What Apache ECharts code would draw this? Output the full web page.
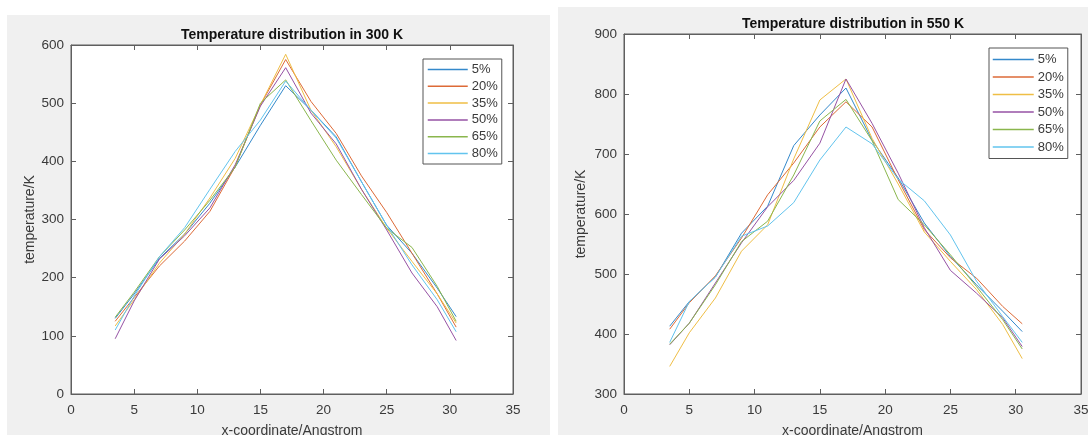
<!DOCTYPE html>
<html>
<head>
<meta charset="utf-8">
<script src="https://cdn.jsdelivr.net/npm/echarts@6/dist/echarts.min.js"></script>
<style>
  html, body { margin: 0; padding: 0; background: #fff; }
  #wrap { position: relative; width: 1088px; height: 435px; overflow: hidden; }
  .panel { position: absolute; background: #f0f0f0; }
  #chart { position: absolute; left: 0; top: 0; width: 1088px; height: 435px; }
</style>
</head>
<body>
<div id="wrap">
  <div class="panel" style="left:7px;top:15px;width:543px;height:420px"></div>
  <div class="panel" style="left:558px;top:7px;width:530px;height:428px"></div>
  <div id="chart"></div>
</div>
<script>
// x positions (Angstrom), same for every curve
var xs = [3.5, 5, 7, 9, 11, 13, 15, 17, 19, 21, 23, 25, 27, 29, 30.5];
var names = ["5%", "20%", "35%", "50%", "65%", "80%"];
var xTicks = [0, 5, 10, 15, 20, 25, 30, 35];

// 300 K
var t300_5 = [130, 172, 233, 275, 328, 390, 462, 530, 488, 442, 365, 290, 242, 182, 133];
var t300_20 = [125, 166, 220, 263, 314, 391, 497, 575, 503, 448, 375, 312, 242, 172, 115];
var t300_35 = [117, 162, 225, 275, 337, 405, 497, 584, 488, 425, 352, 285, 228, 172, 122];
var t300_50 = [95, 160, 232, 272, 320, 394, 495, 561, 483, 430, 352, 282, 208, 150, 92];
var t300_65 = [132, 175, 236, 282, 333, 390, 500, 540, 470, 402, 343, 285, 252, 185, 125];
var t300_80 = [110, 168, 236, 286, 352, 417, 471, 538, 488, 440, 365, 290, 222, 162, 107];

// 550 K
var t550_5 = [413, 454, 495, 568, 613, 714, 765, 810, 723, 660, 585, 529, 482, 438, 404];
var t550_20 = [408, 452, 497, 560, 632, 685, 745, 787, 745, 657, 574, 527, 493, 446, 417];
var t550_35 = [346, 402, 460, 538, 582, 692, 790, 825, 726, 650, 570, 521, 474, 416, 359];
var t550_50 = [382, 418, 485, 552, 612, 656, 718, 825, 751, 668, 577, 506, 468, 427, 379];
var t550_65 = [383, 418, 482, 554, 588, 665, 755, 791, 722, 624, 582, 532, 479, 424, 375];
var t550_80 = [386, 454, 495, 563, 580, 619, 690, 745, 717, 658, 622, 565, 488, 429, 386];

var colors = ["#3489cb", "#dd6a37", "#efbe45", "#9652a4", "#8ab64d", "#62c4ee"];
var axisColor = "#5f5f5f";
var labelColor = "#3a3a3a";
var font = "Liberation Sans, Arial, sans-serif";

function pairs(arr) {
  return xs.map(function (x, i) { return [x, arr[i]]; });
}

function makeSeries(sets, xIdx, yIdx) {
  return sets.map(function (arr, i) {
    return {
      name: names[i],
      type: "line",
      xAxisIndex: xIdx,
      yAxisIndex: yIdx,
      data: pairs(arr),
      symbol: "none",
      lineStyle: { width: 1, color: colors[i] },
      itemStyle: { color: colors[i] },
      z: 3
    };
  });
}

// one x axis at bottom with labels, one at top with ticks only (matlab box)
function xAxes(grid) {
  var base = {
    type: "value", gridIndex: grid, min: 0, max: 35, interval: 5,
    splitLine: { show: false },
    axisLine: { show: true, onZero: false, lineStyle: { color: axisColor, width: 1 } },
    axisTick: { show: true, inside: true, length: 5, lineStyle: { color: axisColor } }
  };
  var bottom = Object.assign({}, base, {
    position: "bottom",
    name: "x-coordinate/Angstrom",
    nameLocation: "middle",
    nameGap: 30,
    nameTextStyle: { fontSize: 14, color: labelColor, fontFamily: font },
    axisLabel: { show: true, fontSize: 13.5, color: labelColor, margin: 9, fontFamily: font,
      showMaxLabel: true, showMinLabel: true }
  });
  var top = Object.assign({}, base, { position: "top", axisLabel: { show: false } });
  return [bottom, top];
}

function yAxes(grid, min, max, gap) {
  var base = {
    type: "value", gridIndex: grid, min: min, max: max, interval: 100,
    splitLine: { show: false },
    axisLine: { show: true, onZero: false, lineStyle: { color: axisColor, width: 1 } },
    axisTick: { show: true, inside: true, length: 5, lineStyle: { color: axisColor } }
  };
  var left = Object.assign({}, base, {
    position: "left",
    name: "temperature/K",
    nameLocation: "middle",
    nameGap: gap,
    nameTextStyle: { fontSize: 14, color: labelColor, fontFamily: font },
    axisLabel: { show: true, fontSize: 13.5, color: labelColor, margin: 7, fontFamily: font }
  });
  var right = Object.assign({}, base, { position: "right", axisLabel: { show: false } });
  return [left, right];
}

var legendBase = {
  orient: "vertical",
  itemWidth: 40,
  itemHeight: 14,
  itemGap: 3.8,
  backgroundColor: "#fff",
  borderColor: "#555",
  borderWidth: 1,
  borderRadius: 0,
  padding: [4, 4, 4, 4],
  // hide the marker circle, keep only the line
  itemStyle: { opacity: 0 },
  lineStyle: { width: 1.5 },
  textStyle: { fontSize: 13, color: labelColor, fontFamily: font, padding: [0, 0, 0, -1] },
  data: names
};

var myChart = echarts.init(document.getElementById("chart"), null, { renderer: "canvas" });
myChart.setOption({
  animation: false,
  color: colors,
  title: [
    {
      text: "Temperature distribution in 300 K",
      left: 292, top: 28, textAlign: "center", padding: 0,
      textStyle: { fontSize: 14, fontWeight: "bold", color: "#111", fontFamily: font }
    },
    {
      text: "Temperature distribution in 550 K",
      left: 853, top: 17, textAlign: "center", padding: 0,
      textStyle: { fontSize: 14, fontWeight: "bold", color: "#111", fontFamily: font }
    }
  ],
  legend: [
    Object.assign({}, legendBase, { left: 423, top: 59, itemWidth: 40 }),
    Object.assign({}, legendBase, { left: 989, top: 48, itemWidth: 41, itemGap: 4.5, padding: [5, 4, 5, 3] })
  ],
  grid: [
    { left: 71, top: 45, width: 442, height: 349, outerBoundsMode: "none", show: true,
      backgroundColor: "#fff", borderColor: axisColor, borderWidth: 1 },
    { left: 624, top: 34, width: 457, height: 360, outerBoundsMode: "none", show: true,
      backgroundColor: "#fff", borderColor: axisColor, borderWidth: 1 }
  ],
  xAxis: xAxes(0).concat(xAxes(1)),
  yAxis: yAxes(0, 0, 600, 34).concat(yAxes(1, 300, 900, 36)),
  series: makeSeries([t300_5, t300_20, t300_35, t300_50, t300_65, t300_80], 0, 0)
    .concat(makeSeries([t550_5, t550_20, t550_35, t550_50, t550_65, t550_80], 2, 2))
});
</script>
</body>
</html>
